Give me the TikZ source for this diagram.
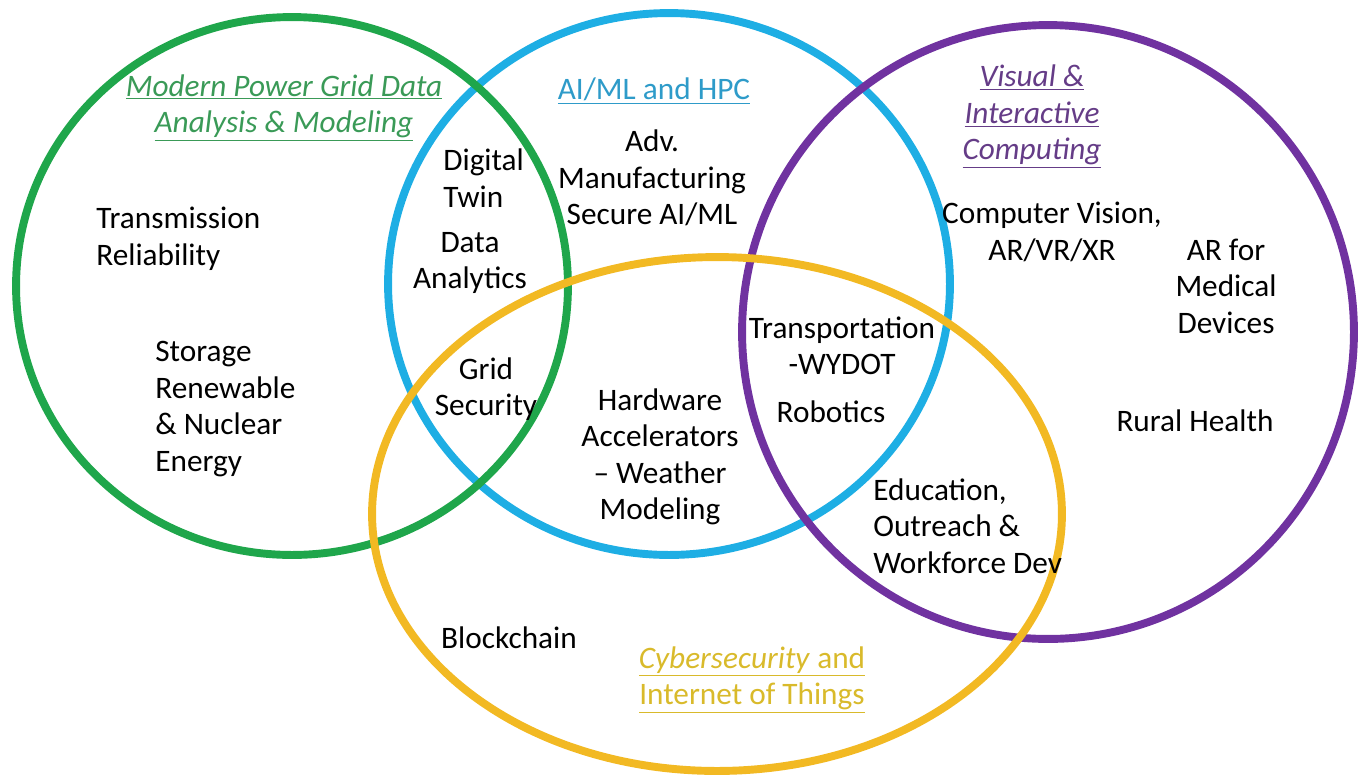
\documentclass[tikz,border=0pt]{standalone}
\usepackage{fontspec}
\setmainfont{Carlito}
\usepackage{xcolor}
\definecolor{ring-green}{HTML}{1FA64B}
\definecolor{ring-blue}{HTML}{1EAEE4}
\definecolor{ring-purple}{HTML}{7032A0}
\definecolor{ring-yellow}{HTML}{F2B923}
\definecolor{title-green}{HTML}{3A9A57}
\definecolor{title-blue}{HTML}{2E9BC9}
\definecolor{title-purple}{HTML}{653C87}
\definecolor{title-yellow}{HTML}{D9BA2B}
\tikzset{
    venn-ring/.style = {line width=4.5pt},
    venn-label/.style = {font=\fontsize{17.8}{20.8}\selectfont, align=center, inner sep=0pt},
    venn-title/.style = {venn-label, font=\fontsize{17.8}{20.8}\selectfont\itshape},
}

\begin{document}
\begin{tikzpicture}[x=0.02cm, y=-0.02cm]
\useasboundingbox (0,0) rectangle (1361,778);
\draw[venn-ring, ring-blue] (669,284) ellipse [x radius=5.62cm, y radius=5.42cm];
\draw[venn-ring, ring-green] (292,286) ellipse [x radius=5.52cm, y radius=5.38cm];
\draw[venn-ring, ring-purple] (1048,332) ellipse [x radius=6.12cm, y radius=6.14cm];
\draw[venn-ring, ring-yellow] (717,514) ellipse [x radius=6.9cm, y radius=5.14cm];

\node[venn-title, text=title-green] (grid-title) at (284,108) {\underline{Modern Power Grid Data}\\\underline{Analysis \& Modeling}};
\node[venn-label, text=title-blue] (ai-title) at (654,91) {\underline{AI/ML and HPC}};
\node[venn-title, text=title-purple] (visual-title) at (1032,117) {\underline{Visual \&}\\\underline{Interactive}\\\underline{Computing}};
\node[venn-label, text=title-yellow] (cyber-title) at (752,680) {\underline{\textit{Cybersecurity} and}\\\underline{Internet of Things}};

\node[venn-label, align=left, anchor=west] (transmission) at (96,239) {Transmission\\Reliability};
\node[venn-label, align=left, anchor=west] (storage) at (155,409) {Storage\\Renewable\\\& Nuclear\\Energy};
\node[venn-label, align=left, anchor=west] (twin) at (443,178) {Digital\\Twin};
\node[venn-label] (analytics) at (470,263) {Data\\Analytics};
\node[venn-label] (manufacturing) at (652,178) {Adv.\\Manufacturing\\Secure AI/ML};
\node[venn-label] (security) at (486,389) {Grid\\Security};
\node[venn-label] (hardware) at (660,457) {Hardware\\Accelerators\\-- Weather\\Modeling};
\node[venn-label] (transport) at (842,346) {Transportation\\-WYDOT};
\node[venn-label] (robotics) at (831,412) {Robotics};
\node[venn-label] (vision) at (1052,232) {Computer Vision,\\AR/VR/XR};
\node[venn-label] (medical) at (1226,286) {AR for\\Medical\\Devices};
\node[venn-label] (rural) at (1195,421) {Rural Health};
\node[venn-label, align=left, anchor=west] (education) at (873,526) {Education,\\Outreach \&\\Workforce Dev};
\node[venn-label] (blockchain) at (509,638) {Blockchain};
\end{tikzpicture}
\end{document}
